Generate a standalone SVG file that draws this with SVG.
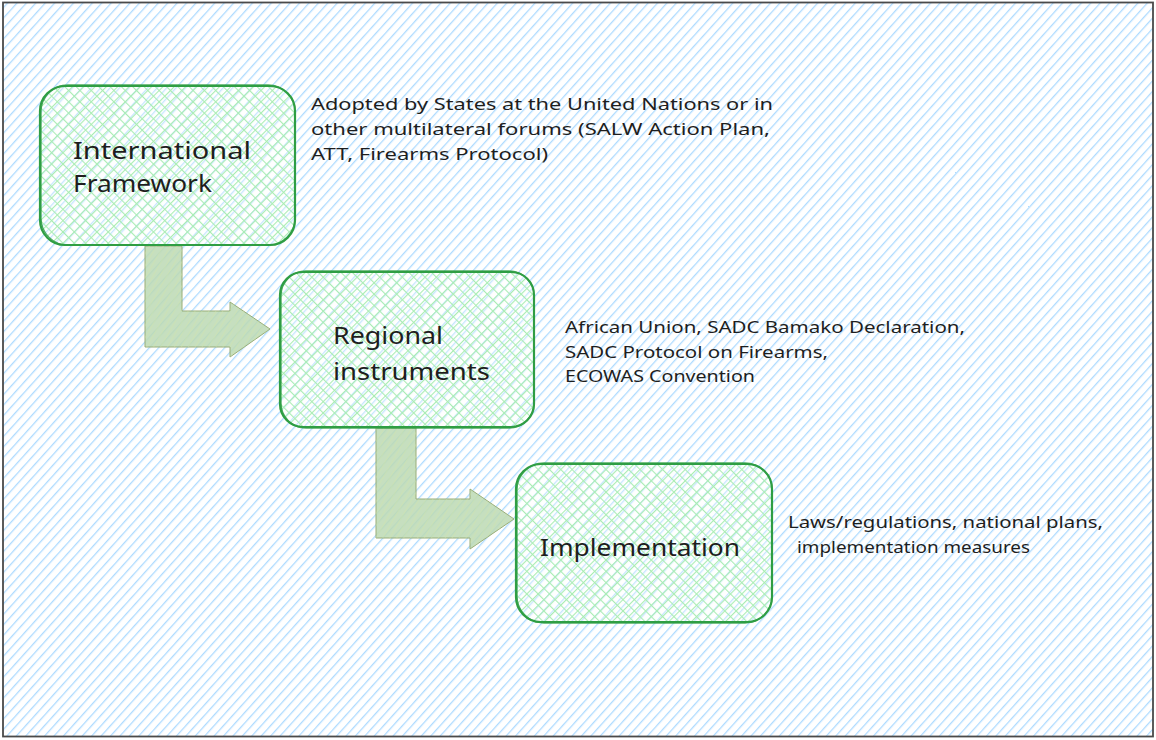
<svg xmlns="http://www.w3.org/2000/svg" width="1156" height="740" viewBox="0 0 1156 740">
<defs>
<pattern id="bgHatch" patternUnits="userSpaceOnUse" width="7" height="7" patternTransform="rotate(42)">
<line x1="0" y1="0" x2="0" y2="7" stroke="#a5d8ff" stroke-width="2.6" stroke-opacity="0.9"/>
</pattern>
<pattern id="greenHatchA" patternUnits="userSpaceOnUse" width="8" height="8" patternTransform="rotate(45)">
<line x1="0" y1="0" x2="0" y2="8" stroke="#a9ecb4" stroke-width="2.2"/>
</pattern>
<pattern id="greenHatchB" patternUnits="userSpaceOnUse" width="8" height="8" patternTransform="rotate(-45)">
<line x1="0" y1="0" x2="0" y2="8" stroke="#a9ecb4" stroke-width="2.2"/>
</pattern>
<pattern id="arrowHatch" patternUnits="userSpaceOnUse" width="6" height="6" patternTransform="rotate(30)">
<line x1="0" y1="0" x2="0" y2="6" stroke="#d2e6a8" stroke-width="1.2" stroke-opacity="0.7"/>
</pattern>
</defs>
<style>
.frame{fill:url(#bgHatch);stroke:#4a4a4a;stroke-width:1.8}
.boxbase{fill:#ffffff;fill-opacity:0.3}
.hA{fill:url(#greenHatchA)}
.hB{fill:url(#greenHatchB)}
.edge{fill:none;stroke:#2f9e44;stroke-width:2.2}
.edge2{fill:none;stroke:#2f9e44;stroke-width:1.3;stroke-opacity:0.85}
.arrow{fill:#bcd9b4;fill-opacity:0.85;stroke:#98ad78;stroke-width:1}
.arrowh{fill:url(#arrowHatch);stroke:none}
.label{font-family:"Noto Sans","DejaVu Sans",sans-serif;font-size:24px;fill:#1e1e1e}
.note{font-family:"Noto Sans","DejaVu Sans",sans-serif;font-size:16.5px;fill:#1e1e1e}
</style>
<rect x="0" y="0" width="1156" height="740" fill="#ffffff"/>
<rect class="frame" x="3" y="2.5" width="1150" height="734"/>

<g id="connectors">
<g id="arrow-1">
<polygon class="arrow" points="145,246 182,246 182,311 230,311 230,302 270,329 230,357 230,347 145,347"/>
<polygon class="arrowh" points="145,246 182,246 182,311 230,311 230,302 270,329 230,357 230,347 145,347"/>
</g>
<g id="arrow-2">
<polygon class="arrow" points="376,428 416,428 416,499 470,499 470,489 514,519 470,549 470,538 376,538"/>
<polygon class="arrowh" points="376,428 416,428 416,499 470,499 470,489 514,519 470,549 470,538 376,538"/>
</g>
</g>

<g id="node-international">
<rect class="boxbase" x="40" y="86" width="255" height="159" rx="25"/>
<rect class="hA" x="40" y="86" width="255" height="159" rx="25"/>
<rect class="hB" x="40" y="86" width="255" height="159" rx="25"/>
<rect class="edge" x="40" y="86" width="255" height="159" rx="25"/>
<rect class="edge2" x="41" y="85" width="254" height="160" rx="27"/>
<text class="label" x="73" y="159" textLength="178" lengthAdjust="spacingAndGlyphs">International</text>
<text class="label" x="73" y="192" textLength="139" lengthAdjust="spacingAndGlyphs">Framework</text>
</g>

<g id="note-international">
<text class="note" x="311" y="110" textLength="462" lengthAdjust="spacingAndGlyphs">Adopted by States at the United Nations or in</text>
<text class="note" x="311" y="135" textLength="459" lengthAdjust="spacingAndGlyphs">other multilateral forums (SALW Action Plan,</text>
<text class="note" x="311" y="160" textLength="237" lengthAdjust="spacingAndGlyphs">ATT, Firearms Protocol)</text>
</g>

<g id="node-regional">
<rect class="boxbase" x="280" y="272" width="254" height="155" rx="23"/>
<rect class="hA" x="280" y="272" width="254" height="155" rx="23"/>
<rect class="hB" x="280" y="272" width="254" height="155" rx="23"/>
<rect class="edge" x="280" y="272" width="254" height="155" rx="23"/>
<rect class="edge2" x="281" y="271" width="253" height="157" rx="25"/>
<text class="label" x="333" y="344" textLength="110" lengthAdjust="spacingAndGlyphs">Regional</text>
<text class="label" x="333" y="380" textLength="157" lengthAdjust="spacingAndGlyphs">instruments</text>
</g>

<g id="note-regional">
<text class="note" x="565" y="333" textLength="400" lengthAdjust="spacingAndGlyphs">African Union, SADC Bamako Declaration,</text>
<text class="note" x="565" y="358" textLength="263" lengthAdjust="spacingAndGlyphs">SADC Protocol on Firearms,</text>
<text class="note" x="565" y="382" textLength="190" lengthAdjust="spacingAndGlyphs">ECOWAS Convention</text>
</g>

<g id="node-implementation">
<rect class="boxbase" x="516" y="464" width="256" height="158" rx="25"/>
<rect class="hA" x="516" y="464" width="256" height="158" rx="25"/>
<rect class="hB" x="516" y="464" width="256" height="158" rx="25"/>
<rect class="edge" x="516" y="464" width="256" height="158" rx="25"/>
<rect class="edge2" x="517" y="463" width="255" height="160" rx="27"/>
<text class="label" x="540" y="556" textLength="200" lengthAdjust="spacingAndGlyphs">Implementation</text>
</g>

<g id="note-implementation">
<text class="note" x="788" y="528" textLength="315" lengthAdjust="spacingAndGlyphs">Laws/regulations, national plans,</text>
<text class="note" x="797" y="553" textLength="233" lengthAdjust="spacingAndGlyphs">implementation measures</text>
</g>
</svg>
